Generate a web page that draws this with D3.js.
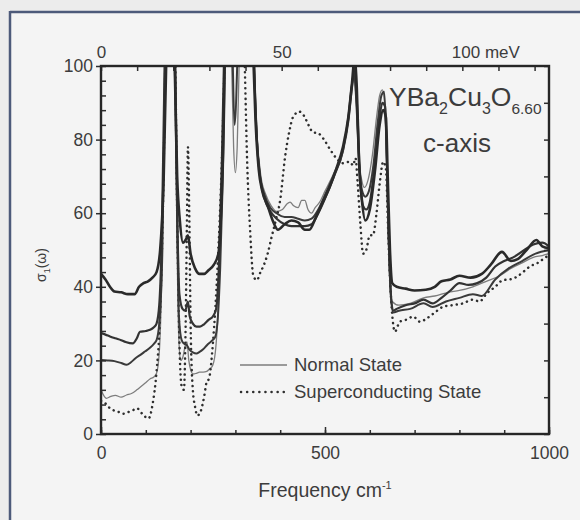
<!DOCTYPE html>
<html>
<head>
<meta charset="utf-8">
<script src="https://cdn.jsdelivr.net/npm/d3@7/dist/d3.min.js"></script>
<style>
  body { margin: 0; background: #f3f3f3; }
  svg { display: block; }
  text { font-family: "Liberation Sans", Arial, Helvetica, sans-serif; fill: #3c3c3c; }
</style>
</head>
<body>
<svg id="chart" width="580" height="520"></svg>
<script>
// c-axis optical conductivity of YBa2Cu3O6.60 (sigma_1 vs frequency in cm^-1)

// Normal state, curve 1 (highest background)
const normal1Freq  = [0, 10, 20, 30, 45, 60, 75, 85, 95, 105, 115, 124, 132, 140, 147, 155, 163, 170, 176, 183, 190, 194, 200, 210, 220, 230, 240, 252, 262, 268, 274, 280, 300, 330, 338, 345, 352, 360, 372, 385, 395, 410, 425, 440, 455, 465, 480, 495, 510, 525, 540, 552, 560, 566, 571, 576, 582, 590, 600, 612, 622, 630, 636, 640, 645, 650, 660, 680, 700, 725, 745, 760, 780, 800, 825, 850, 870, 895, 915, 930, 950, 972, 985, 1000];
const normal1Sigma = [43.5, 42, 40, 38.7, 38.5, 38, 38, 40, 41, 41.5, 42.5, 44, 50, 70, 110, 160, 110, 70, 58, 52, 53, 54, 49, 45, 43.5, 43.5, 44.5, 46, 49, 60, 85, 130, 160, 140, 110, 85, 72, 66, 62, 57.5, 55.5, 57, 58, 57.5, 55.5, 55.5, 59, 63, 67, 72, 78, 86, 95, 102, 94, 74, 64, 58, 61, 72, 84, 88, 86, 70, 50, 41, 40, 39.5, 39, 39.2, 40, 41.5, 42, 43, 42.5, 43.5, 46, 49.5, 47, 47.5, 50, 52.7, 51, 50.5];

// Normal state, curve 2
const normal2Freq  = [0, 10, 20, 32, 45, 55, 71, 80, 87, 100, 109, 118, 124, 130, 136, 142, 155, 165, 170, 175, 182, 188, 194, 198, 205, 213, 221, 230, 240, 250, 257, 263, 270, 278, 300, 335, 342, 348, 355, 365, 378, 392, 410, 425, 440, 455, 470, 485, 500, 520, 540, 552, 560, 566, 572, 578, 585, 592, 600, 610, 620, 628, 634, 638, 642, 647, 652, 660, 680, 700, 720, 740, 760, 780, 800, 820, 840, 860, 880, 900, 920, 945, 965, 985, 1000];
const normal2Sigma = [27.4, 27, 26.5, 26, 25.5, 25, 24.6, 26, 27.8, 28, 28.3, 29, 30, 35, 55, 100, 150, 100, 60, 38, 34, 33.5, 36, 32, 30, 29.2, 29.2, 29.8, 31, 32, 34, 45, 75, 120, 160, 140, 100, 80, 70, 64, 60.5, 58.5, 57, 56.5, 56.5, 56.5, 57, 60, 64, 70, 77, 85, 94, 99, 88, 70, 62, 61, 63, 72, 84, 90, 89, 75, 55, 38, 33.5, 34, 35, 35.5, 36.5, 35.5, 37, 39, 41, 40.5, 41, 42.5, 45.5, 47, 48, 50, 51.5, 52, 51];

// Normal state, curve 3
const normal3Freq  = [0, 15, 30, 45, 57, 67, 77, 88, 98, 110, 118, 124, 130, 137, 143, 155, 166, 170, 174, 180, 186, 191, 197, 205, 213, 220, 228, 237, 247, 255, 261, 266, 272, 280, 292, 298, 304, 312, 335, 342, 348, 355, 365, 378, 392, 410, 425, 440, 455, 470, 485, 500, 520, 540, 552, 560, 565, 570, 576, 583, 590, 598, 608, 618, 626, 632, 637, 641, 646, 652, 665, 690, 720, 740, 770, 800, 830, 850, 880, 910, 940, 970, 1000];
const normal3Sigma = [20.1, 20, 19.8, 19.3, 18.8, 19.5, 20.6, 21.5, 22.4, 23.5, 24.5, 25.5, 30, 50, 100, 150, 100, 60, 32, 25.5, 24.5, 24.2, 23, 22.2, 21.9, 22.3, 23, 24.2, 25.3, 26.4, 32, 45, 70, 120, 110, 84, 100, 150, 140, 100, 80, 70, 65, 61.5, 60, 59, 59, 58.5, 58, 58.5, 61, 65, 70.5, 77, 86, 95, 98, 90, 74, 66, 64.5, 66, 73, 85, 92, 93, 80, 58, 40, 33, 33.5, 34, 35.5, 34.5, 36, 37, 38, 37.5, 42, 45, 47, 49, 50];

// Normal state, curve 4 (thin grey)
const normal4Freq  = [0, 12, 22, 32, 45, 57, 68, 80, 90, 98, 110, 118, 124, 130, 136, 142, 155, 166, 170, 174, 178, 183, 188, 192, 196, 200, 206, 213, 220, 228, 236, 243, 248, 255, 262, 268, 275, 282, 290, 296, 300, 304, 310, 318, 335, 342, 349, 357, 368, 380, 392, 405, 415, 422, 430, 440, 448, 455, 462, 470, 478, 488, 500, 520, 540, 552, 560, 564, 569, 575, 582, 588, 596, 606, 615, 622, 628, 634, 639, 644, 650, 665, 690, 720, 745, 775, 800, 830, 860, 890, 915, 940, 965, 985, 1000];
const normal4Sigma = [12, 9.7, 10.2, 10.5, 10, 10.6, 11, 12, 13, 13.8, 15, 15.5, 16.5, 22, 45, 100, 150, 100, 50, 25, 20, 21, 24, 25, 20, 17.5, 16.3, 16.5, 16.8, 16.8, 17, 17.8, 18.3, 22, 35, 55, 90, 130, 110, 78, 71, 78, 110, 150, 140, 100, 80, 70, 65, 62, 60.5, 61, 62.5, 63, 62, 61.5, 63.5, 63.5, 61, 60, 61.5, 63, 66, 71, 77.5, 86, 95, 97, 92, 76, 69, 67, 69, 76, 86, 92, 93.5, 88, 65, 44, 36, 35, 35.5, 37, 37.5, 38.5, 39, 40, 41.5, 43, 45, 46.5, 48, 48.5, 49];

// Superconducting state (dotted)
const superFreq  = [0, 10, 20, 39, 50, 62, 72, 80, 92, 106, 115, 124, 131, 138, 145, 155, 165, 170, 175, 180, 185, 189, 192, 194, 197, 200, 205, 210, 215, 222, 230, 236, 241, 250, 260, 270, 280, 300, 315, 321, 326, 333, 340, 348, 356, 362, 372, 381, 390, 400, 411, 420, 429, 443, 453, 463, 473, 485, 496, 512, 525, 540, 555, 563, 568, 573, 579, 585, 592, 600, 607, 615, 622, 630, 636, 641, 646, 652, 656, 667, 680, 697, 712, 727, 745, 764, 785, 808, 830, 845, 861, 880, 897, 912, 928, 942, 957, 975, 995, 1000];
const superSigma = [9, 8.3, 7, 6, 5.5, 6, 6.5, 7, 5.5, 4.2, 8, 17, 30, 60, 110, 160, 110, 60, 25, 13, 12, 30, 60, 78, 60, 30, 12, 7.4, 5, 6, 10, 14.2, 15, 25, 45, 75, 120, 160, 130, 100, 75, 55, 43, 41.8, 44, 45.5, 49, 53.6, 58, 63.6, 75.4, 82, 86.2, 87.6, 86.5, 84, 82, 81.7, 80.3, 77.2, 75, 73.6, 74, 73, 75, 68, 57, 49, 50, 54, 54, 60, 68, 74, 72, 55, 40, 30, 27.8, 30.5, 31, 31.9, 30.5, 31.4, 33, 34.6, 35, 35.5, 36.5, 36, 38.2, 40, 41.8, 42, 42.7, 44, 45.5, 46.5, 48.2, 48.5];

// Axis ticks and labels
const freqLabelTicks = [0, 500, 1000];
const freqMinorTicks = [0, 100, 200, 300, 400, 500, 600, 700, 800, 900, 1000];
const sigmaLabelTicks = [0, 20, 40, 60, 80, 100];
const sigmaMinorTicks = d3.range(0, 101, 4);
const sigmaRightTicks = d3.range(0, 101, 10);
const energyLabelTicks = [0, 50, 100];
const energyMinorTicks = d3.range(0, 121, 10);
const CM_PER_MEV = 8.0655;

const legendLabels = ["Normal State", "Superconducting State"];

const svg = d3.select("#chart");
const W = 580, H = 520;
const plot = { left: 101, right: 549, top: 66, bottom: 434 };

// page background and frame
svg.append("rect").attr("width", W).attr("height", H).attr("fill", "#ececec");
svg.append("rect").attr("x", 10).attr("y", 12).attr("width", W - 10).attr("height", H - 12).attr("fill", "#f4f4f4");
svg.append("line").attr("x1", 10).attr("x2", W).attr("y1", 12).attr("y2", 12)
  .attr("stroke", "#4d5a7a").attr("stroke-width", 2.5);
svg.append("line").attr("x1", 10).attr("x2", 10).attr("y1", 11).attr("y2", H)
  .attr("stroke", "#4d5a7a").attr("stroke-width", 2.5);

const x = d3.scaleLinear().domain([0, 1000]).range([plot.left, plot.right]);
const y = d3.scaleLinear().domain([0, 100]).range([plot.bottom, plot.top]);

svg.append("clipPath").attr("id", "plotClip")
  .append("rect").attr("x", plot.left).attr("y", plot.top)
  .attr("width", plot.right - plot.left).attr("height", plot.bottom - plot.top);

const series = [
  { freq: normal4Freq, sigma: normal4Sigma, color: "#7d7d7d", width: 1.3, dash: null },
  { freq: superFreq,   sigma: superSigma,   color: "#2e2e2e", width: 2.5, dash: "0.1 5.2" },
  { freq: normal3Freq, sigma: normal3Sigma, color: "#3a3a3a", width: 2.0, dash: null },
  { freq: normal2Freq, sigma: normal2Sigma, color: "#333333", width: 2.2, dash: null },
  { freq: normal1Freq, sigma: normal1Sigma, color: "#2a2a2a", width: 2.6, dash: null }
];

const line = d3.line()
  .x(d => x(d[0]))
  .y(d => y(d[1]))
  .curve(d3.curveMonotoneX);

const curves = svg.append("g").attr("clip-path", "url(#plotClip)");
series.forEach(s => {
  const pts = s.freq.map((f, i) => [f, s.sigma[i]]);
  curves.append("path")
    .datum(pts)
    .attr("d", line)
    .attr("fill", "none")
    .attr("stroke", s.color)
    .attr("stroke-width", s.width)
    .attr("stroke-linejoin", "round")
    .attr("stroke-linecap", s.dash ? "round" : "butt")
    .attr("stroke-dasharray", s.dash);
});

// axes
function styleAxis(g) {
  g.select(".domain").remove();
  g.selectAll(".tick line").attr("stroke", "#2e2e2e").attr("stroke-width", 1.5);
  g.selectAll(".tick text").style("font-family", "'Liberation Sans', Arial, sans-serif").attr("fill", "#444");
}

// bottom: frequency (cm^-1)
svg.append("g").attr("transform", `translate(0,${plot.bottom})`)
  .call(d3.axisBottom(x).tickValues(freqMinorTicks).tickSizeInner(-4).tickSizeOuter(0).tickFormat(""))
  .call(styleAxis);
svg.append("g").attr("transform", `translate(0,${plot.bottom})`)
  .call(d3.axisBottom(x).tickValues(freqLabelTicks).tickSizeInner(-7).tickSizeOuter(0).tickPadding(13).tickFormat(d3.format("d")))
  .call(styleAxis)
  .call(g => g.selectAll(".tick text").attr("font-size", 17.5));

// left: sigma_1
svg.append("g").attr("transform", `translate(${plot.left},0)`)
  .call(d3.axisLeft(y).tickValues(sigmaMinorTicks).tickSizeInner(-5).tickSizeOuter(0).tickFormat(""))
  .call(styleAxis);
svg.append("g").attr("transform", `translate(${plot.left},0)`)
  .call(d3.axisLeft(y).tickValues(sigmaLabelTicks).tickSizeInner(5).tickSizeOuter(0).tickPadding(3).tickFormat(d3.format("d")))
  .call(styleAxis)
  .call(g => g.selectAll(".tick text").attr("font-size", 17.5));

// right: plain ticks
svg.append("g").attr("transform", `translate(${plot.right},0)`)
  .call(d3.axisRight(y).tickValues(sigmaRightTicks).tickSizeInner(-5).tickSizeOuter(0).tickFormat(""))
  .call(styleAxis);

// top: photon energy (meV)
svg.append("g").attr("transform", `translate(0,${plot.top})`)
  .call(d3.axisTop(x).tickValues(energyMinorTicks.map(e => e * CM_PER_MEV)).tickSizeInner(-5).tickSizeOuter(0).tickFormat(""))
  .call(styleAxis);
svg.append("g").attr("transform", `translate(0,${plot.top})`)
  .call(d3.axisTop(x).tickValues(energyLabelTicks.map(e => e * CM_PER_MEV)).tickSizeInner(0).tickSizeOuter(0).tickPadding(8)
    .tickFormat(v => { const e = Math.round(v / CM_PER_MEV); return e === 100 ? "100 meV" : String(e); }))
  .call(styleAxis)
  .call(g => g.selectAll(".tick text").attr("font-size", 17)
    .filter(v => Math.round(v / CM_PER_MEV) === 100).attr("text-anchor", "start").attr("x", -11));

// plot frame
svg.append("rect")
  .attr("x", plot.left).attr("y", plot.top)
  .attr("width", plot.right - plot.left).attr("height", plot.bottom - plot.top)
  .attr("fill", "none").attr("stroke", "#262626").attr("stroke-width", 2.4);

// axis titles
const xTitle = svg.append("text")
  .attr("x", 325).attr("y", 497).attr("text-anchor", "middle").attr("font-size", 19.5).attr("fill", "#444");
xTitle.append("tspan").text("Frequency cm");
xTitle.append("tspan").attr("dy", -8).attr("font-size", 11).text("-1");

const yTitle = svg.append("text")
  .attr("transform", "translate(46,265) rotate(-90)")
  .attr("text-anchor", "middle").attr("font-size", 14).attr("fill", "#444");
yTitle.append("tspan").text("σ");
yTitle.append("tspan").attr("dy", 4).attr("font-size", 9).text("1");
yTitle.append("tspan").attr("dy", -4).text("(ω)");

// compound label
const formula = svg.append("text").attr("x", 389).attr("y", 106).attr("font-size", 26.5).attr("fill", "#444");
formula.append("tspan").text("YBa");
formula.append("tspan").attr("dy", 8).attr("font-size", 16).text("2");
formula.append("tspan").attr("dy", -8).text("Cu");
formula.append("tspan").attr("dy", 8).attr("font-size", 16).text("3");
formula.append("tspan").attr("dy", -8).text("O");
formula.append("tspan").attr("dy", 8).attr("font-size", 15.5).text("6.60");

svg.append("text").attr("x", 457).attr("y", 152).attr("text-anchor", "middle")
  .attr("font-size", 26).attr("fill", "#444").text("c-axis");

// legend
const legend = svg.append("g");
legend.append("line").attr("x1", 240).attr("x2", 287).attr("y1", 365).attr("y2", 365)
  .attr("stroke", "#7d7d7d").attr("stroke-width", 1.5);
legend.append("line").attr("x1", 241).attr("x2", 287).attr("y1", 392).attr("y2", 392)
  .attr("stroke", "#2e2e2e").attr("stroke-width", 2.5).attr("stroke-linecap", "round").attr("stroke-dasharray", "0.1 6");
legend.selectAll("text.legend-label").data(legendLabels).join("text")
  .attr("class", "legend-label")
  .attr("x", 294).attr("y", (d, i) => 371 + i * 27)
  .attr("font-size", 18.5).attr("fill", "#444")
  .text(d => d);
</script>
</body>
</html>
